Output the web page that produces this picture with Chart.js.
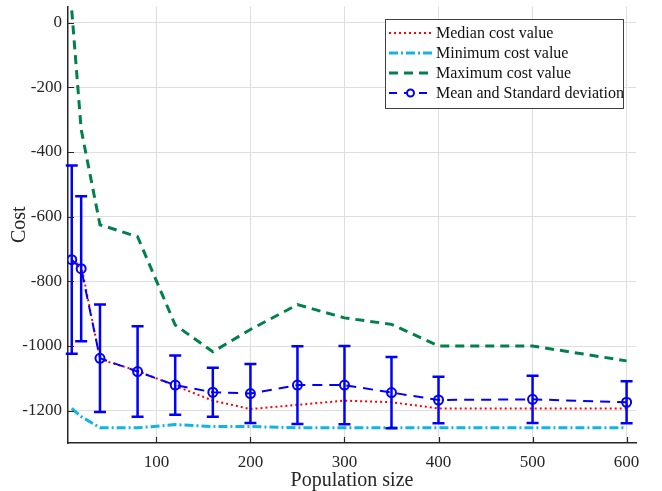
<!DOCTYPE html>
<html>
<head>
<meta charset="utf-8">
<script src="https://cdn.jsdelivr.net/npm/chart.js@4.4.1/dist/chart.umd.min.js"></script>
<style>
  html, body { margin: 0; padding: 0; background: #fff; }
  #wrap { position: relative; width: 662px; height: 491px; }
</style>
</head>
<body>
<div id="wrap"><canvas id="chart" width="662" height="491"></canvas></div>
<script>
// population sizes on the x axis
const popSizes = [10, 20, 40, 80, 120, 160, 200, 250, 300, 350, 400, 500, 600];
const medianCost = [-738, -750, -1041, -1077, -1123, -1169, -1195, -1182, -1169, -1174, -1193, -1193, -1193];
const minCost = [-1193, -1218, -1253, -1253, -1243, -1249, -1249, -1253, -1253, -1253, -1253, -1253, -1253];
const maxCost = [38, -330, -625, -662, -935, -1018, -949, -872, -913, -933, -1000, -1000, -1046];
const meanCost = [-733, -761, -1038, -1079, -1121, -1143, -1147, -1121, -1121, -1144, -1167, -1165, -1174];
const stdCost = [291, 224, 166, 140, 92, 76, 91, 120, 121, 110, 72, 73, 65];

const xTicks = [100, 200, 300, 400, 500, 600];
const yTicks = [-1200, -1000, -800, -600, -400, -200, 0];

const legendLabels = ['Median cost value', 'Minimum cost value', 'Maximum cost value', 'Mean and Standard deviation'];

const FONT = "'Liberation Serif', 'Times New Roman', serif";
const pts = vals => popSizes.map((x, i) => ({ x: x, y: vals[i] }));

const styles = [
  { color: '#ff0000', width: 2, dash: [2, 3] },
  { color: '#12b4e6', width: 3, dash: [9, 3, 2, 3] },
  { color: '#00804a', width: 3, dash: [9, 6] },
  { color: '#0000ff', width: 2, dash: [10, 7] }
];

// error bars for the mean series, drawn through the chart scales
const errorBars = {
  id: 'errorBars',
  afterDatasetsDraw(chart) {
    const { ctx, scales: { x, y } } = chart;
    ctx.save();
    ctx.strokeStyle = '#0000ff';
    ctx.lineWidth = 2.5;
    ctx.setLineDash([]);
    popSizes.forEach((p, i) => {
      const px = x.getPixelForValue(p);
      const top = y.getPixelForValue(meanCost[i] + stdCost[i]);
      const bot = y.getPixelForValue(meanCost[i] - stdCost[i]);
      ctx.beginPath();
      ctx.moveTo(px, top); ctx.lineTo(px, bot);
      ctx.moveTo(px - 6, top); ctx.lineTo(px + 6, top);
      ctx.moveTo(px - 6, bot); ctx.lineTo(px + 6, bot);
      ctx.stroke();
    });
    ctx.restore();
  }
};

// matlab style inward ticks
const innerTicks = {
  id: 'innerTicks',
  afterDraw(chart) {
    const { ctx, chartArea: a, scales: { x, y } } = chart;
    ctx.save();
    ctx.strokeStyle = '#262626';
    ctx.lineWidth = 1.2;
    ctx.beginPath();
    xTicks.forEach(v => {
      const px = Math.round(x.getPixelForValue(v)) + 0.5;
      ctx.moveTo(px, a.bottom); ctx.lineTo(px, a.bottom - 6);
    });
    yTicks.forEach(v => {
      const py = Math.round(y.getPixelForValue(v)) + 0.5;
      ctx.moveTo(a.left, py); ctx.lineTo(a.left + 6, py);
    });
    ctx.stroke();
    ctx.restore();
  }
};

// legend box inside the plot, top right
const boxLegend = {
  id: 'boxLegend',
  afterDraw(chart) {
    const ctx = chart.ctx;
    const bx = 385, by = 19, bw = 238, bh = 89;
    ctx.save();
    ctx.fillStyle = '#fff';
    ctx.fillRect(bx, by, bw, bh);
    ctx.strokeStyle = '#404040';
    ctx.lineWidth = 1;
    ctx.strokeRect(bx + 0.5, by + 0.5, bw, bh);
    ctx.font = '16px ' + FONT;
    ctx.textBaseline = 'middle';
    const rows = [33, 53, 73, 93];
    legendLabels.forEach((label, i) => {
      const s = styles[i];
      ctx.strokeStyle = s.color;
      ctx.lineWidth = s.width;
      ctx.setLineDash(i === 3 ? [8, 7] : s.dash);
      ctx.beginPath();
      ctx.moveTo(389, rows[i]); ctx.lineTo(432, rows[i]);
      ctx.stroke();
      if (i === 3) {
        ctx.setLineDash([]);
        ctx.fillStyle = '#fff';
        ctx.beginPath();
        ctx.arc(410.5, rows[i], 3.5, 0, Math.PI * 2);
        ctx.fill();
        ctx.stroke();
      }
      ctx.setLineDash([]);
      ctx.fillStyle = '#111';
      ctx.fillText(label, 436, rows[i] + 1);
    });
    ctx.restore();
  }
};

const lineSet = (label, vals, i, extra) => Object.assign({
  label: label,
  data: pts(vals),
  borderColor: styles[i].color,
  borderWidth: styles[i].width,
  borderDash: styles[i].dash,
  pointRadius: 0,
  fill: false,
  tension: 0
}, extra || {});

new Chart(document.getElementById('chart').getContext('2d'), {
  type: 'line',
  data: {
    datasets: [
      lineSet(legendLabels[3], meanCost, 3, {
        order: 0,
        pointRadius: 4.5,
        pointStyle: 'circle',
        pointBorderWidth: 2,
        pointBorderColor: '#0000ff',
        pointBackgroundColor: 'rgba(255,255,255,0)'
      }),
      lineSet(legendLabels[0], medianCost, 0, { order: 1 }),
      lineSet(legendLabels[1], minCost, 1, { order: 2 }),
      lineSet(legendLabels[2], maxCost, 2, { order: 3 })
    ]
  },
  options: {
    responsive: false,
    animation: false,
    layout: { padding: { left: 0, right: 26, top: 6, bottom: 0 } },
    plugins: {
      legend: { display: false },
      tooltip: { enabled: false }
    },
    scales: {
      x: {
        type: 'linear',
        min: 6,
        max: 610,
        afterBuildTicks: axis => { axis.ticks = xTicks.map(v => ({ value: v })); },
        afterFit: s => { s.height = 48; s.paddingLeft = 0; s.paddingRight = 0; },
        grid: { color: '#dedede', lineWidth: 1, drawTicks: false },
        border: { display: true, color: '#262626', width: 1.5 },
        ticks: {
          font: { family: FONT, size: 17 },
          color: '#262626',
          padding: 9,
          maxRotation: 0,
          callback: v => String(v)
        },
        title: {
          display: true,
          text: 'Population size',
          font: { family: FONT, size: 20 },
          color: '#262626',
          padding: { top: 0, bottom: -2 }
        }
      },
      y: {
        type: 'linear',
        min: -1300,
        max: 50,
        afterBuildTicks: axis => { axis.ticks = yTicks.map(v => ({ value: v })); },
        afterFit: s => { s.width = 68; s.paddingTop = 0; s.paddingBottom = 0; },
        grid: { color: '#dedede', lineWidth: 1, drawTicks: false },
        border: { display: true, color: '#262626', width: 1.5 },
        ticks: {
          font: { family: FONT, size: 17 },
          color: '#262626',
          padding: 6,
          callback: v => String(v)
        },
        title: {
          display: true,
          text: 'Cost',
          font: { family: FONT, size: 20 },
          color: '#262626',
          padding: { top: 8, bottom: 0 }
        }
      }
    }
  },
  plugins: [errorBars, innerTicks, boxLegend]
});
</script>
</body>
</html>
